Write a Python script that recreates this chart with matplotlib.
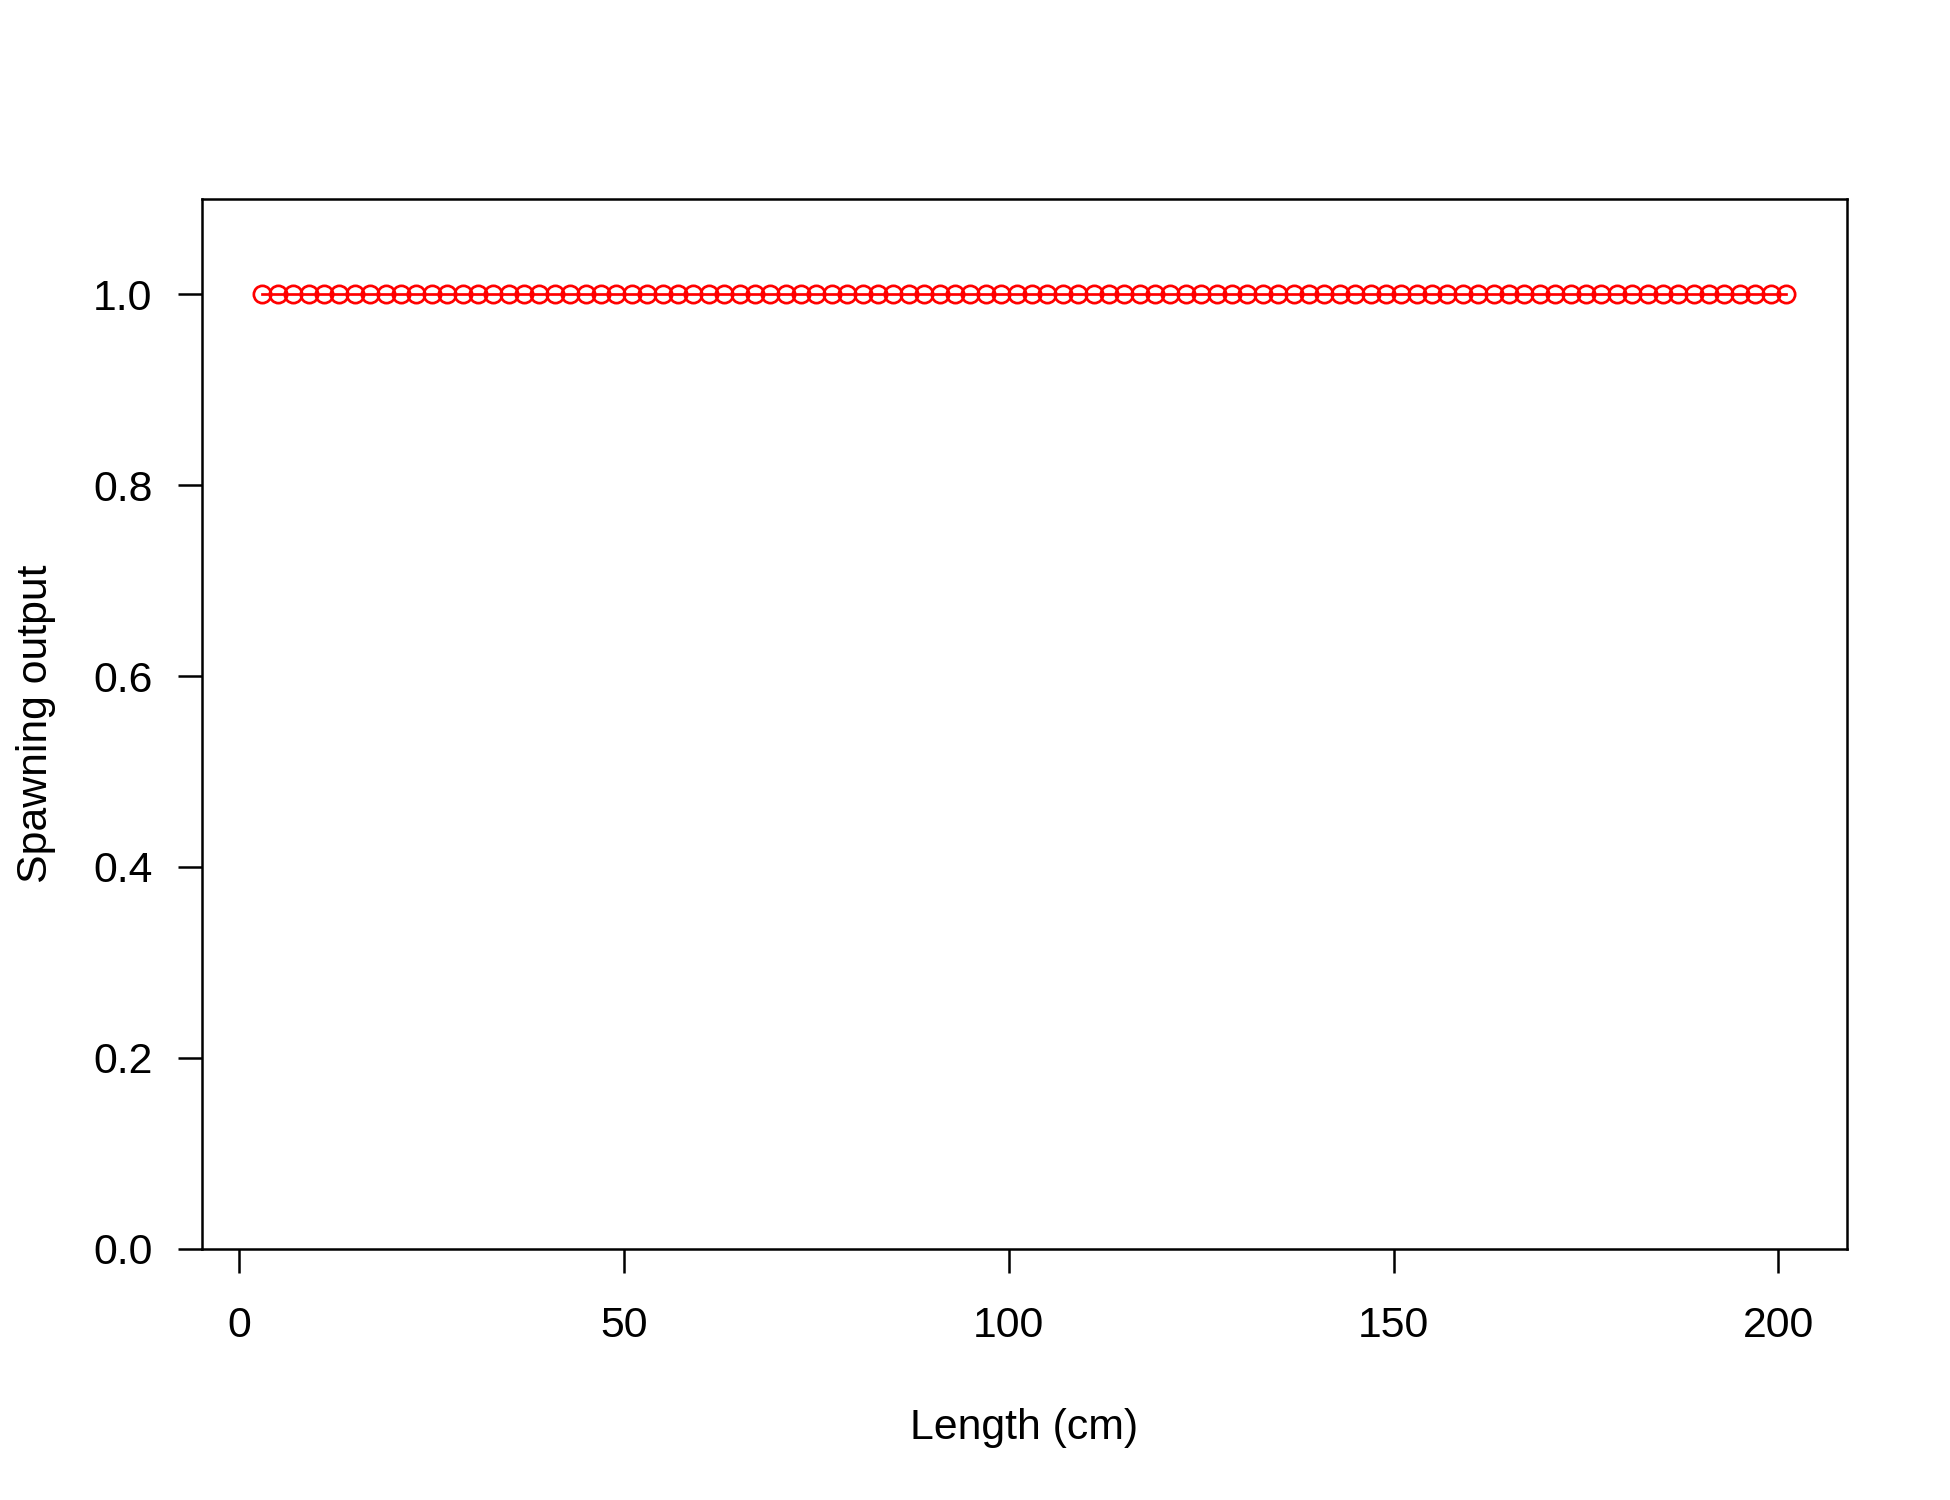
import numpy as np
import matplotlib
matplotlib.use("Agg")
import matplotlib.pyplot as plt

plt.rcParams['font.family'] = ['Liberation Sans', 'DejaVu Sans']

# Lengthbins (cm) and spawning output
lengths = np.arange(3, 202, 2)
spawning = np.ones(len(lengths))

xticks = [0, 50, 100, 150, 200]
yticks = [0.0, 0.2, 0.4, 0.6, 0.8, 1.0]

fig = plt.figure(figsize=(13, 10), dpi=150)
ax = fig.add_axes([201.5 / 1950, 1 - 1248.5 / 1500, (1847 - 201.5) / 1950, (1248.5 - 199) / 1500])

ax.plot(lengths, spawning, color='red', linewidth=1.3, marker='o', markersize=8.3,
        markerfacecolor='none', markeredgecolor='red', markeredgewidth=1.3)

ax.set_xlim(-4.92, 208.92)
ax.set_ylim(0, 1.1)
ax.set_xticks(xticks)
ax.set_xticklabels([str(t) for t in xticks])
ax.set_yticks(yticks)
ax.set_yticklabels([f"{t:.1f}" for t in yticks])

for s in ax.spines.values():
    s.set_linewidth(1.2)
ax.tick_params(direction='out', length=11.5, width=1.2, labelsize=20.5)
ax.tick_params(axis='x', pad=16)
ax.tick_params(axis='y', pad=12)

ax.set_xlabel('Length (cm)', fontsize=20.5, labelpad=30)
ax.set_ylabel('Spawning output', fontsize=20.5, labelpad=18)

fig.savefig('out.png', dpi=150, facecolor='white')
